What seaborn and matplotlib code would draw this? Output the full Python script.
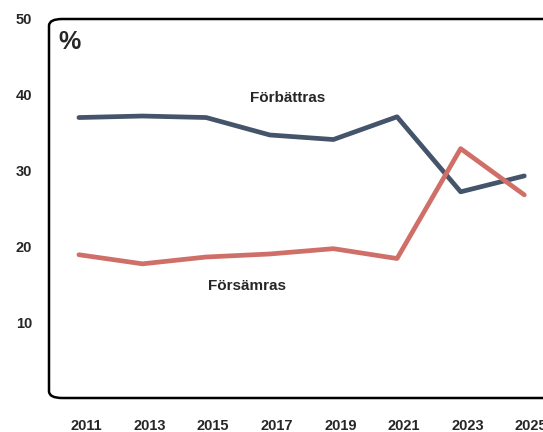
import pandas as pd
import matplotlib
matplotlib.use('Agg')
import matplotlib.pyplot as plt
import matplotlib.transforms as mtransforms
from matplotlib.patches import FancyBboxPatch
import seaborn as sns

# data
years = [2011, 2013, 2015, 2017, 2019, 2021, 2023, 2025]
forbattras = [37.0, 37.2, 37.0, 34.7, 34.1, 37.1, 27.2, 29.3]
forsamras = [18.9, 17.7, 18.6, 19.0, 19.7, 18.4, 32.9, 26.8]
series_names = ['Förbättras', 'Försämras']
y_ticks = [10, 20, 30, 40, 50]

df = pd.DataFrame({
    'Year': years * 2,
    'Value': forbattras + forsamras,
    'Serie': [series_names[0]] * len(years) + [series_names[1]] * len(years),
})

sns.set_style('white')
plt.rcParams['font.family'] = ['Liberation Sans', 'DejaVu Sans']

fig = plt.figure(figsize=(5.43, 4.32), dpi=100)
# axes runs past the right edge of the figure, like the reference
ax = fig.add_axes([49 / 543, 34 / 432, 530 / 543, 379 / 432])

sns.lineplot(data=df, x='Year', y='Value', hue='Serie',
             palette={'Förbättras': '#44546A', 'Försämras': '#CF6F68'},
             linewidth=3.4, legend=False, ax=ax)

ax.set_xlim(2010.06, 2026.72)
ax.set_ylim(0, 50)
ax.set_xticks(years)
ax.set_yticks(y_ticks)
ax.set_xlabel('')
ax.set_ylabel('')
for s in ax.spines.values():
    s.set_visible(False)
ax.tick_params(length=0, labelsize=10.5)
ax.tick_params(axis='x', pad=15)
ax.tick_params(axis='y', pad=12)
for lab in ax.get_xticklabels() + ax.get_yticklabels():
    lab.set_fontweight('bold')
shift = mtransforms.ScaledTranslation(7 / 100, 0, fig.dpi_scale_trans)
for lab in ax.get_xticklabels():
    lab.set_transform(lab.get_transform() + shift)

# rounded frame
frame = FancyBboxPatch((0, 0), 1, 1, boxstyle='round,pad=0,rounding_size=0.025',
                       transform=ax.transAxes, fill=False, edgecolor='black',
                       linewidth=1.8, clip_on=False, mutation_aspect=379 / 530)
ax.add_patch(frame)

ax.text(0.017, 0.97, '%', transform=ax.transAxes, fontsize=18,
        fontweight='bold', va='top', ha='left')
ax.text(2017.57, 39.6, 'Förbättras', fontsize=11, fontweight='bold',
        ha='center', va='center')
ax.text(2016.28, 14.8, 'Försämras', fontsize=11, fontweight='bold',
        ha='center', va='center')

fig.savefig('out.png', dpi=100)
